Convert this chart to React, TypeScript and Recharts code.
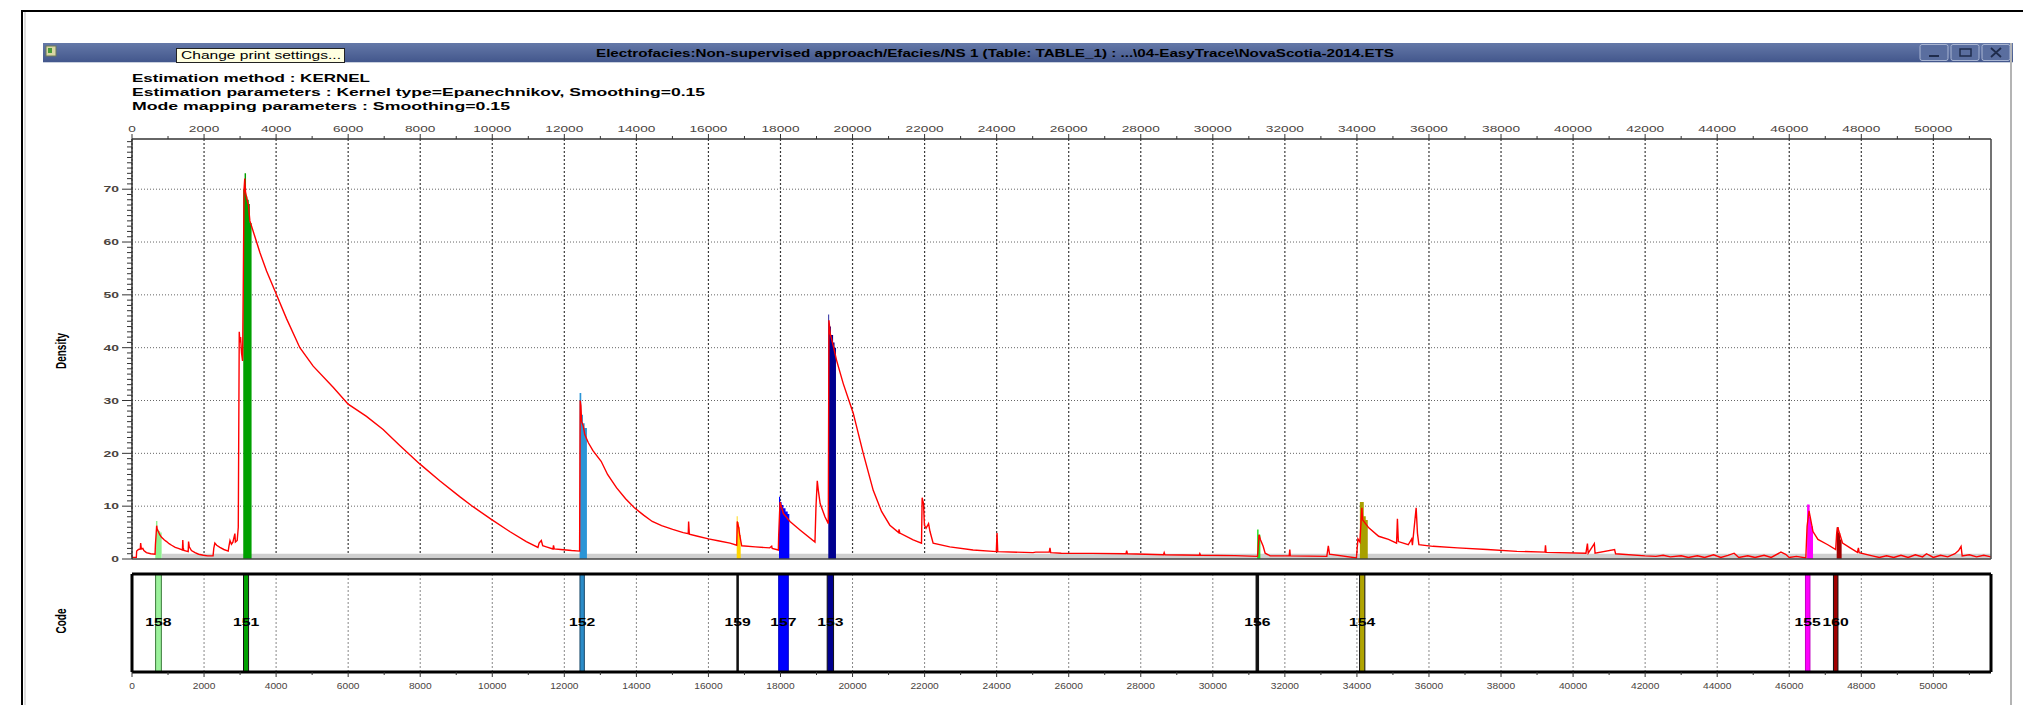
import React from "react";
import { ComposedChart, Line, Area, Scatter, XAxis, YAxis, CartesianGrid } from "recharts";

const FONT = "'Liberation Sans', Arial, sans-serif";
const LABEL = "#4a443e";
const X_MAX = 51600;
const Y_MAX = 79.5;

// axis ticks: minor every 1000 / 1, labels every 2000 / 10
const xTicks = Array.from({ length: 52 }, (_, i) => i * 1000);
const yTicks = Array.from({ length: 80 }, (_, i) => i);
const gridX = xTicks.filter((v) => v % 2000 === 0);
const gridY = [10, 20, 30, 40, 50, 60, 70];

// density curve (x, density)
const density: [number, number][] = [
  [0, 0.3], [120, 0.3], [130, 1.5], [180, 1.8], [230, 1.9], [240, 3.0], [260, 1.9], [300, 2.0], [330, 1.6],
  [400, 1.2], [520, 1.0], [640, 0.9], [650, 2.7], [685, 6.3], [700, 5.6], [730, 5.2], [770, 4.6], [820, 4.1],
  [900, 3.6], [960, 3.3], [1030, 2.9], [1100, 2.6], [1200, 2.2], [1285, 2.0], [1400, 1.7], [1410, 3.6],
  [1420, 2.2], [1440, 1.6], [1560, 1.4], [1570, 3.3], [1590, 2.3], [1650, 1.6], [1750, 1.2], [1850, 0.9],
  [1980, 0.7], [2100, 0.6], [2250, 0.6], [2270, 2.0], [2300, 3.0], [2350, 2.6], [2440, 2.2], [2550, 1.8],
  [2670, 1.5], [2690, 2.4], [2720, 3.5], [2760, 2.8], [2800, 3.2], [2856, 4.8], [2870, 3.2], [2920, 3.5],
  [2950, 6.0], [2977, 43], [2995, 41], [3014, 42], [3040, 39], [3069, 37.5], [3090, 53], [3110, 70],
  [3130, 72], [3150, 69.5], [3180, 68.5], [3230, 67], [3272, 64], [3365, 62], [3550, 58], [3735, 54.5],
  [4012, 50], [4289, 45.5], [4659, 40], [5029, 36.5], [5583, 32.5], [6000, 29.3], [6508, 27], [6970, 24.5],
  [7432, 21.5], [7987, 18], [8541, 14.8], [9096, 11.8], [9466, 9.9], [9974, 7.5], [10483, 5.2], [10945, 3.3],
  [11268, 2.2], [11300, 3.0], [11361, 3.5], [11400, 2.5], [11500, 2.3], [11685, 1.9], [11700, 2.6],
  [11720, 1.9], [11900, 1.8], [12054, 1.7], [12200, 1.6], [12424, 1.5], [12440, 30], [12460, 29],
  [12480, 26], [12525, 25.2], [12570, 23.5], [12667, 22], [12794, 20.5], [13022, 18.5], [13200, 16],
  [13447, 13.5], [13700, 11.4], [13944, 9.7], [14200, 8.3], [14441, 7.1], [14700, 6.3], [15008, 5.6],
  [15300, 5.0], [15440, 4.8], [15450, 7.1], [15470, 4.7], [15700, 4.3], [16002, 3.8], [16300, 3.4],
  [16600, 3.0], [16785, 2.6], [16800, 7.1], [16840, 6.0], [16870, 4.5], [16896, 3.5], [16924, 2.5],
  [17300, 2.3], [17700, 2.1], [17756, 2.4], [17770, 2.0], [17940, 1.7], [17950, 4.5], [17987, 10.8],
  [18080, 8.6], [18264, 7.1], [18541, 5.5], [18957, 3.2], [18985, 9.9], [19021, 14.8], [19050, 13],
  [19100, 10.5], [19234, 8], [19327, 6.7], [19345, 45.2], [19380, 42.7], [19470, 40.2], [19557, 37.6],
  [19742, 33.2], [20019, 27.6], [20297, 20], [20574, 13], [20805, 9.0], [21036, 6.4], [21280, 5.0],
  [21290, 5.6], [21313, 4.9], [21683, 3.6], [21914, 3.0], [21932, 11.6], [21970, 10.5], [21995, 6.4],
  [22040, 5.8], [22110, 6.7], [22150, 5.2], [22237, 3.0], [22699, 2.3], [23346, 1.7], [23990, 1.4],
  [24010, 4.9], [24030, 1.4], [25009, 1.2], [25083, 1.3], [25460, 1.3], [25480, 2.1], [25500, 1.2],
  [25793, 1.1], [26644, 1.07], [27590, 1.0], [27609, 1.6], [27630, 1.0], [28631, 0.8], [28650, 1.2],
  [28670, 0.8], [29624, 0.7], [29640, 1.0], [29660, 0.7], [30617, 0.63], [31241, 0.5], [31284, 4.6],
  [31320, 3.7], [31398, 2.4], [31452, 1.1], [31540, 0.8], [31589, 0.6], [32120, 0.6], [32137, 1.8],
  [32150, 0.6], [33164, 0.5], [33206, 2.5], [33240, 0.9], [33987, 0.2], [34028, 3.8], [34082, 3.2],
  [34137, 9.7], [34160, 7.4], [34329, 5.9], [34603, 4.3], [34877, 3.7], [35100, 3.0], [35124, 7.6],
  [35150, 3.3], [35425, 2.7], [35520, 3.8], [35540, 2.6], [35644, 9.7], [35680, 4.9], [35720, 2.7],
  [36110, 2.4], [36795, 2.1], [37617, 1.8], [38439, 1.45], [39220, 1.3], [39234, 2.6], [39250, 1.26],
  [40357, 1.1], [40398, 2.9], [40420, 1.1], [40590, 2.9], [40610, 1.1], [41152, 1.8], [41179, 1.0],
  [42001, 0.6], [42300, 0.5], [42500, 0.7], [42700, 0.4], [43000, 0.6], [43200, 0.3], [43450, 0.6],
  [43650, 0.3], [43900, 0.8], [44100, 0.3], [44300, 0.7], [44470, 1.1], [44600, 0.3], [44850, 0.6],
  [45050, 0.3], [45300, 0.7], [45500, 0.3], [45769, 1.3], [45900, 0.9], [46000, 0.3], [46200, 0.5],
  [46460, 0.2], [46495, 6.2], [46549, 9.1], [46659, 5.2], [46796, 3.7], [47070, 2.7], [47289, 1.8],
  [47317, 4.9], [47344, 6.0], [47481, 3.0], [47690, 2.1], [47892, 1.26], [47920, 2.1], [47940, 1.2],
  [48303, 0.6], [48500, 0.3], [48700, 0.6], [48900, 0.3], [49100, 0.7], [49300, 0.3], [49500, 0.8],
  [49700, 0.4], [49810, 1.0], [50000, 0.3], [50200, 0.7], [50400, 0.4], [50600, 1.0], [50700, 1.6],
  [50769, 2.4], [50800, 0.6], [51000, 0.8], [51200, 0.4], [51400, 0.7], [51600, 0.4],
];

// light grey floor under the curve
const floorBand: [number, number][] = [[830, 1.0], [51600, 1.0]];

// mode bands: (x, top) profiles in the density panel
const band158: [number, number][] = [[645, 2.8], [665, 7.2], [705, 5.6], [740, 5.3], [780, 5.0], [823, 5.0]];
const band151: [number, number][] = [[3088, 70], [3125, 73], [3165, 68.6], [3200, 68], [3240, 67.2], [3272, 63.6], [3319, 63.6]];
const band152: [number, number][] = [[12424, 31.4], [12470, 27.3], [12517, 25.7], [12563, 24.8], [12627, 24.8]];
const band159: [number, number][] = [[16785, 8.1], [16810, 7.0], [16840, 6.0], [16870, 4.5], [16896, 4.5]];
const band157: [number, number][] = [[17959, 11.8], [17990, 10.8], [18030, 10.2], [18080, 9.6], [18140, 9.0], [18200, 8.5], [18245, 8.5]];
const band153: [number, number][] = [[19327, 46.3], [19350, 44], [19400, 42.4], [19460, 41], [19500, 40], [19540, 40]];
const band156: [number, number][] = [[31230, 5.6], [31270, 4.6], [31320, 4.6]];
const band154: [number, number][] = [[34082, 10.8], [34190, 8.1], [34245, 7.4], [34301, 7.4]];
const band155: [number, number][] = [[46495, 10.3], [46565, 8], [46605, 6.2], [46659, 6.2]];
const band160: [number, number][] = [[47317, 6.0], [47372, 4.9], [47413, 3.7], [47454, 3.7]];

// code panel
const modeCodes = ["158", "151", "152", "159", "157", "153", "156", "154", "155", "160"];
const modeFill = ["#8ef08e", "#00a000", "#2b95d6", "#ffd400", "#0000ff", "#00008f", "#22dd22", "#a8a000", "#ff00ff", "#a00000"];
const modeCodeFill = ["#9cf29c", "#00a000", "#2b8cc8", "#111111", "#0000ff", "#00008f", "#111111", "#b0a400", "#ff00ff", "#a00000"];
const modeEdge = ["#3c7a3c", "#111", "#1d4a6a", "#111", "#0000c0", "#111", "#111", "#111", "#c000c0", "#111"];
const modeFrom = [655, 3095, 12434, 16790, 17950, 19296, 31200, 34073, 46450, 47227];
const modeTo = [815, 3236, 12556, 16830, 18217, 19473, 31270, 34220, 46575, 47352];
const bands = [band158, band151, band152, band159, band157, band153, band156, band154, band155, band160];

const rows: any[] = [
  ...floorBand.map(([x, y]) => ({ x, floor: y })),
  ...density.map(([x, y]) => ({ x, density: y })),
  ...bands.flatMap((b, i) => b.map(([x, y]) => ({ x, ["m" + modeCodes[i]]: y }))),
].sort((a, b) => a.x - b.x);

// each code stripe: left edge up, across, right edge down
const codeRows: any[] = modeCodes
  .flatMap((c, i) => [
    { x: modeFrom[i], ["c" + c]: 0 },
    { x: modeFrom[i], ["c" + c]: 1 },
    { x: modeTo[i], ["c" + c]: 1 },
    { x: modeTo[i], ["c" + c]: 0 },
  ])
  .sort((a, b) => a.x - b.x);

const codeLabels = modeCodes.map((c, i) => ({ x: (modeFrom[i] + modeTo[i]) / 2, y: 0.5, code: c }));

function TopTick(props: any) {
  const { x, payload } = props;
  const v = payload.value;
  const major = v % 2000 === 0;
  return (
    <g>
      <line x1={x} x2={x} y1={39} y2={major ? 34 : 36} stroke="#333" />
      {major && (
        <text transform={`translate(${x},32) scale(1.52,1)`} textAnchor="middle" fontSize={9} fill={LABEL} fontFamily={FONT}>
          {v}
        </text>
      )}
    </g>
  );
}

function LeftTick(props: any) {
  const { y, payload } = props;
  const v = payload.value;
  const major = v % 10 === 0;
  return (
    <g>
      <line x1={major ? 122 : 127} x2={132} y1={y} y2={y} stroke="#333" />
      {major && (
        <text transform={`translate(119,${y + 3.2}) scale(1.55,1)`} textAnchor="end" fontSize={9} fontWeight="bold" fill={LABEL} fontFamily={FONT}>
          {v}
        </text>
      )}
    </g>
  );
}

function BottomTick(props: any) {
  const { x, payload } = props;
  const v = payload.value;
  const major = v % 2000 === 0;
  return (
    <g>
      <line x1={x} x2={x} y1={107} y2={major ? 112 : 110} stroke="#333" />
      {major && (
        <text transform={`translate(${x},124) scale(1.2,1)`} textAnchor="middle" fontSize={8.5} fill={LABEL} fontFamily={FONT}>
          {v}
        </text>
      )}
    </g>
  );
}

function CodeLabel(props: any) {
  const { cx, cy, payload } = props;
  return (
    <text transform={`translate(${cx},${cy + 3}) scale(1.5,1)`} textAnchor="middle" fontSize={10.5} fontWeight="bold" fill="#000" fontFamily={FONT}>
      {payload.code}
    </text>
  );
}

function Chrome() {
  return (
    <svg width={2023} height={705} style={{ position: "absolute", left: 0, top: 0 }}>
      <defs>
        <linearGradient id="tb" x1="0" y1="0" x2="0" y2="1">
          <stop offset="0" stopColor="#6478a8" />
          <stop offset="1" stopColor="#43578c" />
        </linearGradient>
      </defs>
      {/* outer frame */}
      <line x1={21} y1={11} x2={2023} y2={11} stroke="#000" strokeWidth={2} />
      <line x1={22} y1={10} x2={22} y2={705} stroke="#000" strokeWidth={2} />
      <line x1={25} y1={12} x2={25} y2={705} stroke="#bbb" strokeWidth={1} />
      {/* title bar */}
      <rect x={43} y={43} width={1970} height={19} fill="url(#tb)" />
      <line x1={43} y1={62.5} x2={2013} y2={62.5} stroke="#c9d0de" />
      <line x1={2011} y1={43} x2={2011} y2={705} stroke="#b4b4b4" strokeWidth={2} />
      <rect x={46} y={46} width={10} height={10} fill="#d9d6a4" stroke="#6d7a5a" />
      <rect x={48} y={48} width={4} height={5} fill="#4a9a3a" />
      <rect x={176.5} y={48.5} width={168} height={14} fill="#ffffe1" stroke="#222" />
      <text x={181} y={59} fontSize={10} fontFamily={FONT} fill="#000" textLength={160} lengthAdjust="spacingAndGlyphs">
        Change print settings...
      </text>
      <text x={596} y={57} fontSize={10.5} fontWeight="bold" fontFamily={FONT} fill="#000" textLength={798} lengthAdjust="spacingAndGlyphs">
        {"Electrofacies:Non-supervised approach/Efacies/NS 1 (Table: TABLE_1) : ...\\04-EasyTrace\\NovaScotia-2014.ETS"}
      </text>
      {[1920, 1951, 1982].map((bx) => (
        <rect key={bx} x={bx} y={44.5} width={28} height={16} rx={2} fill="#5a6e9f" stroke="#a9b5d2" />
      ))}
      <line x1={1929} x2={1939} y1={56} y2={56} stroke="#1f2c4c" strokeWidth={2} />
      <rect x={1960} y={49} width={11} height={7} fill="none" stroke="#1f2c4c" strokeWidth={1.5} />
      <path d="M1991 48 L2001 57 M2001 48 L1991 57" stroke="#1f2c4c" strokeWidth={1.8} />
      {/* header text */}
      <text x={132} y={82} fontSize={11.5} fontWeight="bold" fontFamily={FONT} textLength={238} lengthAdjust="spacingAndGlyphs">
        Estimation method : KERNEL
      </text>
      <text x={132} y={96} fontSize={11.5} fontWeight="bold" fontFamily={FONT} textLength={573} lengthAdjust="spacingAndGlyphs">
        Estimation parameters : Kernel type=Epanechnikov, Smoothing=0.15
      </text>
      <text x={132} y={110} fontSize={11.5} fontWeight="bold" fontFamily={FONT} textLength={378} lengthAdjust="spacingAndGlyphs">
        Mode mapping parameters : Smoothing=0.15
      </text>
      {/* axis titles */}
      <text transform="translate(66,351) scale(1.5,1) rotate(-90)" textAnchor="middle" fontSize={10} fontWeight="bold" fontFamily={FONT}>
        Density
      </text>
      <text transform="translate(66,621) scale(1.5,1) rotate(-90)" textAnchor="middle" fontSize={10} fontWeight="bold" fontFamily={FONT}>
        Code
      </text>
    </svg>
  );
}

export default function App() {
  return (
    <div style={{ position: "absolute", left: 0, top: 0, width: 2023, height: 705, background: "#fff", overflow: "hidden", fontFamily: FONT }}>
      <Chrome />
      <div style={{ position: "absolute", left: 0, top: 100 }}>
        <ComposedChart width={2000} height={465} data={rows} margin={{ top: 0, right: 8, bottom: 5, left: 0 }}>
          <CartesianGrid horizontal={false} verticalValues={gridX} stroke="#3a3a3a" strokeDasharray="2 2" strokeWidth={1.2} />
          <CartesianGrid vertical={false} horizontalValues={gridY} stroke="#666" strokeDasharray="1 2" />
          <XAxis
            type="number"
            dataKey="x"
            orientation="top"
            domain={[0, X_MAX]}
            ticks={xTicks}
            interval={0}
            height={39}
            allowDataOverflow
            tickLine={false}
            axisLine={{ stroke: "#333", strokeWidth: 1.5 }}
            tick={<TopTick />}
          />
          <XAxis xAxisId="frame" type="number" orientation="bottom" domain={[0, X_MAX]} height={1} tick={false} tickLine={false} axisLine={{ stroke: "#444", strokeWidth: 1.5 }} />
          <YAxis
            type="number"
            domain={[0, Y_MAX]}
            ticks={yTicks}
            interval={0}
            width={132}
            allowDataOverflow
            tickLine={false}
            axisLine={{ stroke: "#333", strokeWidth: 1.5 }}
            tick={<LeftTick />}
          />
          <YAxis yAxisId="frame" type="number" orientation="right" domain={[0, Y_MAX]} width={1} tick={false} tickLine={false} axisLine={{ stroke: "#444", strokeWidth: 1.5 }} />
          <Area type="linear" dataKey="floor" stroke="none" fill="#cfcfcf" fillOpacity={1} connectNulls dot={false} activeDot={false} isAnimationActive={false} />
          {modeCodes.map((c, i) => (
            <Area
              key={c}
              type="stepAfter"
              dataKey={"m" + c}
              stroke="none"
              fill={modeFill[i]}
              fillOpacity={1}
              connectNulls
              dot={false}
              activeDot={false}
              isAnimationActive={false}
            />
          ))}
          <Line type="linear" dataKey="density" stroke="#ff0000" strokeWidth={1.4} dot={false} activeDot={false} connectNulls isAnimationActive={false} />
        </ComposedChart>
      </div>
      <div style={{ position: "absolute", left: 0, top: 565 }}>
        <ComposedChart width={2000} height={140} data={codeRows} margin={{ top: 8, right: 8, bottom: 0, left: 131 }}>
          <CartesianGrid horizontal={false} verticalValues={gridX} stroke="#888" strokeDasharray="2 2" />
          <XAxis
            type="number"
            dataKey="x"
            domain={[0, X_MAX]}
            ticks={xTicks}
            interval={0}
            height={33}
            allowDataOverflow
            tickLine={false}
            axisLine={{ stroke: "#000", strokeWidth: 3 }}
            tick={<BottomTick />}
          />
          <XAxis xAxisId="frame" type="number" orientation="top" domain={[0, X_MAX]} height={1} tick={false} tickLine={false} axisLine={{ stroke: "#000", strokeWidth: 3 }} />
          <YAxis type="number" dataKey="y" domain={[0, 1]} width={1} tick={false} tickLine={false} axisLine={{ stroke: "#000", strokeWidth: 3 }} />
          <YAxis yAxisId="frame" type="number" orientation="right" domain={[0, 1]} width={1} tick={false} tickLine={false} axisLine={{ stroke: "#000", strokeWidth: 3 }} />
          {modeCodes.map((c, i) => (
            <Area
              key={c}
              type="linear"
              dataKey={"c" + c}
              stroke={modeEdge[i]}
              strokeWidth={1}
              fill={modeCodeFill[i]}
              fillOpacity={1}
              connectNulls
              dot={false}
              activeDot={false}
              isAnimationActive={false}
            />
          ))}
          <Scatter data={codeLabels} dataKey="y" shape={<CodeLabel />} isAnimationActive={false} />
        </ComposedChart>
      </div>
    </div>
  );
}
